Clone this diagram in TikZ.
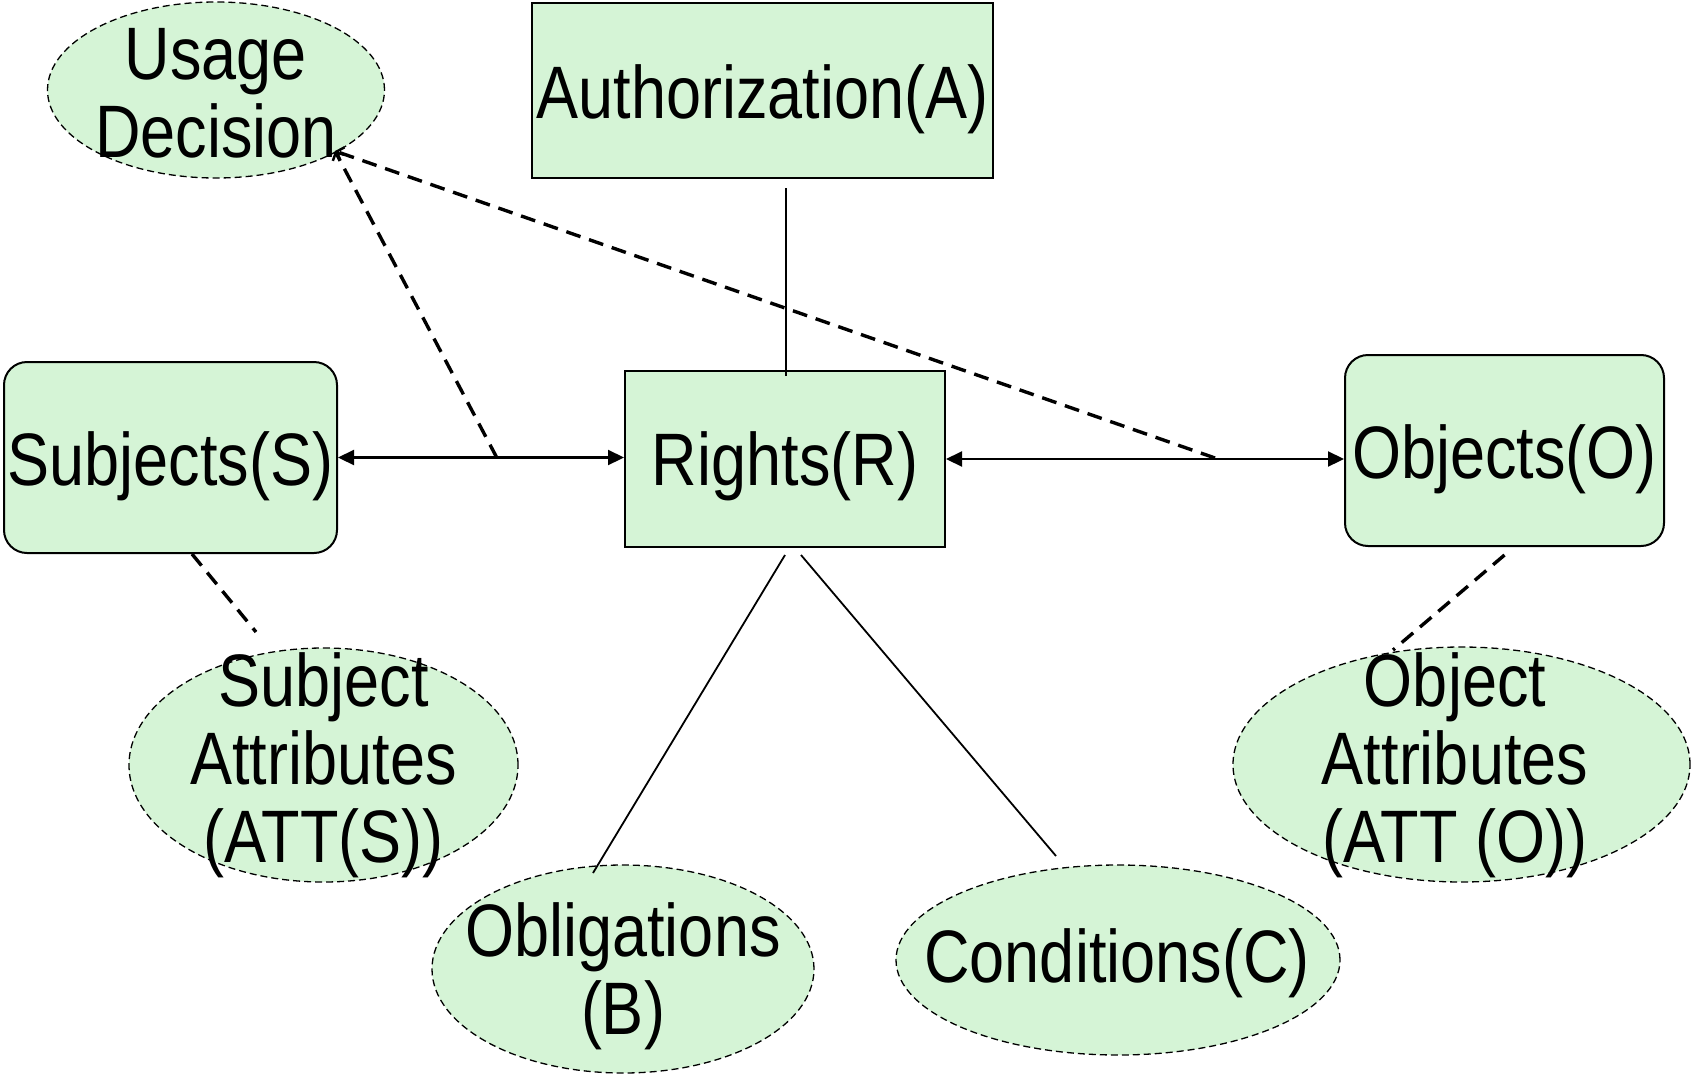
\documentclass[tikz,border=0pt]{standalone}
\usepackage{fontspec}
\setmainfont{Liberation Sans}
\usepackage{graphicx}
\usetikzlibrary{shapes.geometric,arrows.meta,calc}
\definecolor{fillg}{HTML}{D5F4D6}
\newcommand\vt[1]{\scalebox{1}[1.18]{#1}}
\begin{document}
\begin{tikzpicture}[x=1pt,y=-1pt,
 txt/.style={font=\fontsize{63}{78}\selectfont, align=center, inner sep=0pt},
 boxn/.style={draw, line width=2pt, fill=fillg, inner sep=0pt},
 btxt/.style={font=\fontsize{63}{78}\selectfont, inner sep=0pt},
 ell/.style={ellipse, draw, dash pattern=on 7pt off 4pt, line width=1.3pt, fill=fillg, inner sep=0pt},
 con/.style={line width=1.8pt},
 dcon/.style={line width=3.4pt, dash pattern=on 15pt off 9pt},
 darr/.style={line width=2.2pt, {Triangle[length=16pt,width=15pt]}-{Triangle[length=16pt,width=15pt]}},
 barb/.style={-{Straight Barb[length=6pt,width=13pt,line width=2.5pt]}}]
\useasboundingbox (0,0) rectangle (1691,1076);

% boxes
\node[boxn, minimum width=461pt, minimum height=175pt] (A) at (762.5,90.5) {};
\node[btxt] (At) at (762.5,99) {\vt{Authorization(A)}};
\node[boxn, minimum width=320pt, minimum height=176pt] (R) at (785,459) {};
\node[btxt] (Rt) at (785,466) {\vt{Rights(R)}};
\node[boxn, rounded corners=23pt, minimum width=333pt, minimum height=191pt] (S) at (170.5,457.5) {};
\node[btxt] (St) at (170.5,466) {\vt{Subjects(S)}};
\node[boxn, rounded corners=23pt, minimum width=319pt, minimum height=191pt] (O) at (1504.5,450.5) {};
\node[btxt] (Ot) at (1504.5,459) {\vt{Objects(O)}};

% ellipses
\node[ell, minimum width=337pt, minimum height=176pt] (U) at (216,90) {};
\node[txt] (Ut) at (216,93) {\vt{Usage}\\\vt{Decision}};
\node[ell, minimum width=389pt, minimum height=234pt] (SA) at (323.5,765) {};
\node[txt] (SAt) at (323.5,765) {\vt{Subject}\\\vt{Attributes}\\\vt{(ATT(S))}};
\node[ell, minimum width=457pt, minimum height=235pt] (OA) at (1461.5,764.5) {};
\node[txt] (OAt) at (1455,765) {\vt{Object}\\\vt{Attributes}\\\vt{(ATT (O))}};
\node[ell, minimum width=382pt, minimum height=208pt] (B) at (623,969) {};
\node[txt] (Bt) at (623,976) {\vt{Obligations}\\\vt{(B)}};
\node[ell, minimum width=444pt, minimum height=190pt] (C) at (1118,960) {};
\node[txt] (Ct) at (1117,963) {\vt{Conditions(C)}};

% solid connectors
\draw[con] ($(R.north)+(1,6)$) -- ($(R.north |- A.south)+(1,9)$);
\draw[con] ($(R.south)+(0,7)$) -- ($(B.center)+(-30,-96)$);
\draw[con] ($(R.south)+(16,7)$) -- ($(C.center)+(-62,-104)$);

% arrows
\draw[darr] (S.east) -- (S.east -| R.west);
\draw[darr] (R.east) -- (R.east -| O.west);

% dashed connectors
\coordinate (j1) at (497,458);
\coordinate (j2) at (1215,458);
\draw[dcon, barb] (j1) -- ($(U.center)+(119,61)$);
\draw[dcon, barb] (j2) -- ($(U.center)+(119,61)$);
\draw[dcon] ($(S.south)+(21.5,0)$) -- ($(SA.center)+(-67.5,-133)$);
\draw[dcon] ($(O.south)+(0,8)$) -- ($(OA.center)+(-68.5,-114.5)$);
\end{tikzpicture}
\end{document}
